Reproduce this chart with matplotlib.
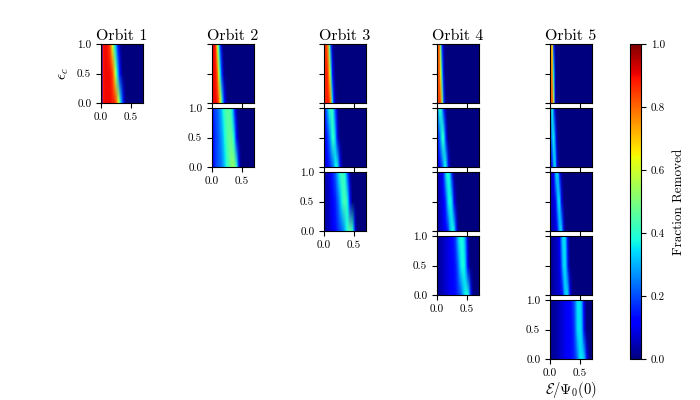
import numpy as np
import matplotlib.pyplot as plt

plt.rcParams['font.family'] = 'serif'
plt.rcParams['font.serif'] = ['cmr10', 'DejaVu Serif']
plt.rcParams['mathtext.fontset'] = 'cm'
plt.rcParams['axes.formatter.use_mathtext'] = True

# energy bins of 0.025 from 0 to 0.7, three eccentricity rows (eps = 0, 0.5, 1)
e_max = 0.7
n_bins = 28
orbit_titles = ['Orbit 1', 'Orbit 2', 'Orbit 3', 'Orbit 4', 'Orbit 5']

# fraction removed, rows = [eps low, eps mid, eps high]
o1_p1 = [[0.1, 0.88, 0.9, 0.9, 0.9, 0.9, 0.9, 0.88, 0.88, 0.85, 0.78, 0.62, 0.45, 0.3, 0.18, 0.08],
         [0.1, 0.88, 0.9, 0.9, 0.9, 0.9, 0.88, 0.85, 0.75, 0.58, 0.42, 0.28, 0.15, 0.06],
         [0.1, 0.88, 0.9, 0.9, 0.88, 0.85, 0.78, 0.62, 0.48, 0.35, 0.22, 0.12, 0.05]]

o2_p1 = [[0.9, 0.9, 0.9, 0.88, 0.82, 0.65, 0.42, 0.25, 0.12, 0.04],
         [0.9, 0.9, 0.88, 0.82, 0.6, 0.35, 0.18, 0.06],
         [0.9, 0.9, 0.85, 0.62, 0.38, 0.18, 0.06]]
o2_p2 = [[0.12, 0.15, 0.18, 0.2, 0.22, 0.22, 0.25, 0.28, 0.32, 0.38, 0.42, 0.45, 0.5, 0.52, 0.52, 0.48, 0.38, 0.2, 0.08],
         [0.12, 0.16, 0.18, 0.2, 0.22, 0.25, 0.28, 0.32, 0.38, 0.42, 0.45, 0.47, 0.47, 0.45, 0.38, 0.25, 0.1, 0.04],
         [0.12, 0.18, 0.2, 0.22, 0.25, 0.28, 0.32, 0.38, 0.42, 0.45, 0.45, 0.45, 0.42, 0.35, 0.22, 0.1, 0.04]]

o3_p1 = [[0.85, 0.88, 0.88, 0.85, 0.72, 0.35, 0.12, 0.04],
         [0.85, 0.88, 0.85, 0.7, 0.4, 0.15, 0.05],
         [0.85, 0.85, 0.75, 0.45, 0.2, 0.05]]
o3_p2 = [[0.08, 0.1, 0.12, 0.15, 0.18, 0.22, 0.28, 0.36, 0.38, 0.28, 0.14, 0.05],
         [0.1, 0.14, 0.18, 0.24, 0.32, 0.4, 0.4, 0.3, 0.15, 0.05],
         [0.15, 0.22, 0.3, 0.38, 0.42, 0.4, 0.3, 0.18, 0.08]]
o3_p3 = [[0.03, 0.04, 0.05, 0.06, 0.08, 0.1, 0.12, 0.14, 0.16, 0.18, 0.2, 0.22, 0.25, 0.3, 0.36, 0.42, 0.45, 0.45, 0.4, 0.25, 0.08],
         [0.03, 0.04, 0.05, 0.07, 0.09, 0.12, 0.14, 0.16, 0.2, 0.24, 0.3, 0.36, 0.42, 0.43, 0.42, 0.35, 0.2, 0.08],
         [0.03, 0.05, 0.06, 0.08, 0.12, 0.15, 0.18, 0.22, 0.28, 0.35, 0.4, 0.42, 0.42, 0.38, 0.3, 0.18, 0.08]]

o4_p1 = [[0.82, 0.85, 0.8, 0.55, 0.2, 0.05],
         [0.82, 0.82, 0.62, 0.3, 0.08],
         [0.82, 0.78, 0.45, 0.15, 0.05]]
o4_p2 = [[0.1, 0.12, 0.15, 0.2, 0.3, 0.38, 0.3, 0.15, 0.05],
         [0.15, 0.2, 0.3, 0.4, 0.38, 0.22, 0.08],
         [0.25, 0.38, 0.4, 0.3, 0.15, 0.06]]
o4_p3 = [[0.03, 0.05, 0.06, 0.08, 0.1, 0.12, 0.14, 0.18, 0.28, 0.35, 0.38, 0.35, 0.2, 0.08],
         [0.04, 0.05, 0.07, 0.09, 0.12, 0.16, 0.25, 0.35, 0.38, 0.36, 0.25, 0.1, 0.04],
         [0.05, 0.06, 0.08, 0.1, 0.18, 0.3, 0.38, 0.38, 0.35, 0.2, 0.08]]
o4_p4 = [[0.02, 0.03, 0.04, 0.05, 0.06, 0.07, 0.08, 0.09, 0.1, 0.11, 0.12, 0.13, 0.14, 0.16, 0.18, 0.2, 0.24, 0.3, 0.35, 0.38, 0.38, 0.3, 0.15, 0.05],
         [0.02, 0.03, 0.04, 0.05, 0.06, 0.07, 0.08, 0.09, 0.1, 0.11, 0.12, 0.14, 0.16, 0.2, 0.26, 0.33, 0.37, 0.38, 0.35, 0.25, 0.12, 0.04],
         [0.02, 0.03, 0.04, 0.05, 0.06, 0.07, 0.08, 0.09, 0.1, 0.12, 0.14, 0.16, 0.2, 0.28, 0.35, 0.38, 0.38, 0.36, 0.3, 0.2, 0.08]]

o5_p1 = [[0.78, 0.82, 0.55, 0.1],
         [0.78, 0.75, 0.35, 0.05],
         [0.78, 0.65, 0.15, 0.03]]
o5_p2 = [[0.1, 0.15, 0.3, 0.35, 0.15, 0.04],
         [0.18, 0.3, 0.36, 0.22, 0.06],
         [0.3, 0.38, 0.2, 0.06]]
o5_p3 = [[0.04, 0.05, 0.06, 0.08, 0.1, 0.2, 0.32, 0.35, 0.2, 0.06],
         [0.05, 0.06, 0.08, 0.1, 0.22, 0.34, 0.33, 0.15, 0.05],
         [0.05, 0.08, 0.12, 0.28, 0.35, 0.3, 0.12, 0.04]]
o5_p4 = [[0.02, 0.03, 0.04, 0.05, 0.06, 0.07, 0.08, 0.1, 0.15, 0.28, 0.33, 0.35, 0.25, 0.1, 0.04],
         [0.02, 0.03, 0.04, 0.05, 0.06, 0.07, 0.1, 0.18, 0.3, 0.35, 0.32, 0.2, 0.07],
         [0.02, 0.03, 0.04, 0.05, 0.06, 0.08, 0.12, 0.25, 0.33, 0.35, 0.3, 0.15, 0.05]]
o5_p5 = [[0.02, 0.02, 0.03, 0.03, 0.04, 0.05, 0.06, 0.07, 0.08, 0.09, 0.1, 0.11, 0.12, 0.13, 0.14, 0.15, 0.17, 0.2, 0.25, 0.32, 0.35, 0.35, 0.33, 0.25, 0.12, 0.04],
         [0.02, 0.02, 0.03, 0.03, 0.04, 0.05, 0.06, 0.07, 0.08, 0.09, 0.1, 0.11, 0.12, 0.13, 0.14, 0.16, 0.2, 0.28, 0.34, 0.35, 0.34, 0.28, 0.15, 0.05],
         [0.02, 0.02, 0.03, 0.03, 0.04, 0.05, 0.06, 0.07, 0.08, 0.09, 0.1, 0.11, 0.12, 0.13, 0.15, 0.18, 0.22, 0.3, 0.35, 0.35, 0.33, 0.25, 0.12, 0.04]]

orbits = [[o1_p1],
          [o2_p1, o2_p2],
          [o3_p1, o3_p2, o3_p3],
          [o4_p1, o4_p2, o4_p3, o4_p4],
          [o5_p1, o5_p2, o5_p3, o5_p4, o5_p5]]


def to_grid(rows):
    g = np.zeros((len(rows), n_bins))
    for i, r in enumerate(rows):
        g[i, :len(r)] = r
    return g


W, H = 700.0, 400.0
fig = plt.figure(figsize=(7, 4), dpi=100)

col_left = [101, 212, 324, 437, 550]
row_top = [44, 108, 172, 236, 300]
pw, ph = 42, 59

im = None
for c, panels in enumerate(orbits):
    for r, rows in enumerate(panels):
        ax = fig.add_axes([col_left[c] / W, 1 - (row_top[r] + ph) / H, pw / W, ph / H])
        # row centres sit on eps = 0, 0.5, 1
        im = ax.imshow(to_grid(rows), origin='lower', extent=[0, e_max, -0.25, 1.25],
                       aspect='auto', cmap='jet', vmin=0, vmax=1,
                       interpolation='bilinear')
        ax.set_xlim(0, e_max)
        ax.set_ylim(0, 1)
        ax.set_xticks([0, 0.5])
        ax.set_yticks([0, 0.5, 1.0])
        ax.tick_params(labelsize=8, length=3.5, width=0.8, direction='out')
        for s in ax.spines.values():
            s.set_linewidth(0.8)
        last = (r == len(panels) - 1)
        if last:
            ax.set_xticklabels(['0.0', '0.5'])
            ax.set_yticklabels(['0.0', '0.5', '1.0'])
        else:
            ax.set_xticklabels([])
            ax.set_yticklabels([])
        if r == 0:
            ax.set_title(orbit_titles[c], fontsize=11.5, pad=3)
        if c == 0:
            ax.set_ylabel(r'$\epsilon_c$', fontsize=11, labelpad=4)
        if c == 4 and last:
            ax.set_xlabel(r'$\mathcal{E}/\Psi_0(0)$', fontsize=10.5, labelpad=1)

cax = fig.add_axes([630 / W, 1 - 359 / H, 11 / W, 315 / H])
cb = fig.colorbar(im, cax=cax, ticks=[0, 0.2, 0.4, 0.6, 0.8, 1.0])
cb.ax.set_yticklabels(['0.0', '0.2', '0.4', '0.6', '0.8', '1.0'])
cb.ax.tick_params(labelsize=8, length=3.5, width=0.8)
cb.outline.set_linewidth(0.8)
cb.set_label('Fraction Removed', fontsize=9.5, labelpad=6)

fig.savefig('out.png', dpi=100)
